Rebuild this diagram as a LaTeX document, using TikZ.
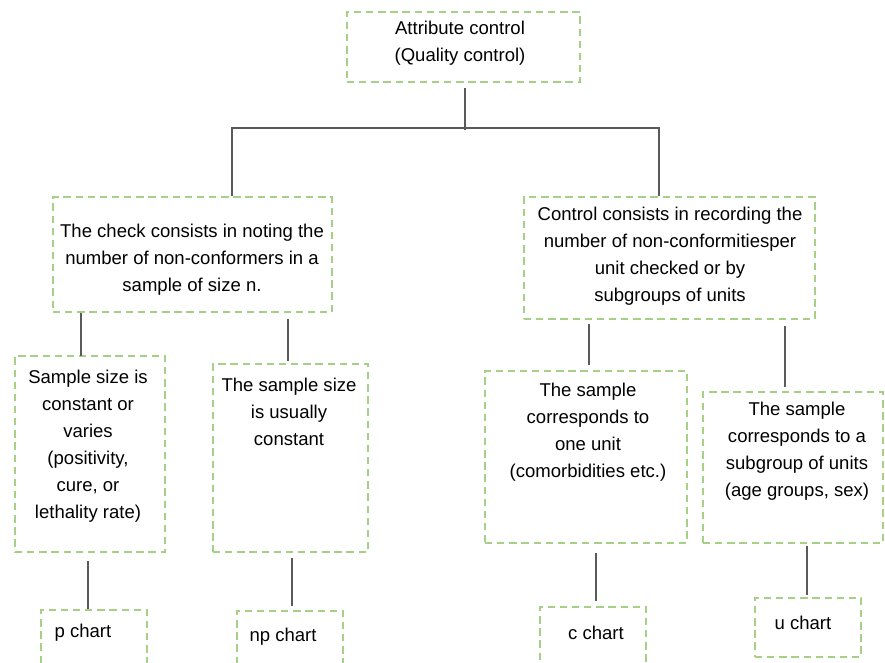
\documentclass[tikz,border=0pt]{standalone}
\usepackage{fontspec}
\setmainfont{Liberation Sans}
\usetikzlibrary{calc}
\definecolor{boxgreen}{RGB}{166,207,135}
\definecolor{conngray}{RGB}{90,90,90}
\begin{document}
\begin{tikzpicture}[x=0.75pt,y=-0.75pt,
  box/.style={draw=boxgreen,line width=1.5pt,dash pattern=on 5.5pt off 3.6pt,inner sep=0pt},
  txt/.style={align=center,inner sep=0pt,font=\fontsize{13.9}{20.25}\selectfont,text=black},
  conn/.style={draw=conngray,line width=1.4pt}]
\useasboundingbox (0,0) rectangle (885,663);
\clip (0,0) rectangle (885,663);
% boxes
\node[box,minimum width=233*0.75pt,minimum height=70*0.75pt] (top) at (463.5,47) {};
\node[box,minimum width=279*0.75pt,minimum height=115*0.75pt] (L) at (192.5,254.5) {};
\node[box,minimum width=291*0.75pt,minimum height=122*0.75pt] (R) at (669.5,258) {};
\node[box,minimum width=150*0.75pt,minimum height=196*0.75pt] (p) at (90,454) {};
\node[box,minimum width=155*0.75pt,minimum height=188*0.75pt] (np) at (290.5,458) {};
\node[box,minimum width=202*0.75pt,minimum height=172*0.75pt] (c) at (586,457) {};
\node[box,minimum width=180*0.75pt,minimum height=151*0.75pt] (u) at (793,467.5) {};
\node[box,minimum width=106*0.75pt,minimum height=70*0.75pt] (pc) at (94,645) {};
\node[box,minimum width=106*0.75pt,minimum height=70*0.75pt] (npc) at (290,646) {};
\node[box,minimum width=106*0.75pt,minimum height=70*0.75pt] (cc) at (593,642) {};
\node[box,minimum width=106*0.75pt,minimum height=59*0.75pt] (uc) at (808,627.5) {};
% texts
\node[txt] (ttop) at (460,43.5) {Attribute control\\ (Quality control)};
\node[txt] (tL) at (192,260) {The check consists in noting the\\number of non-conformers in a\\sample of size n.};
\node[txt] (tR) at (670,256) {Control consists in recording the\\number of non-conformitiesper\\unit checked or by\\subgroups of units};
\node[txt] (tp) at (88,446) {Sample size is\\constant or\\varies\\(positivity,\\cure, or\\lethality rate)};
\node[txt] (tnp) at (289,412) {The sample size\\is usually\\constant};
\node[txt] (tc) at (588,432.5) {The sample\\corresponds to\\one unit\\(comorbidities etc.)};
\node[txt] (tu) at (797,451) {The sample\\corresponds to a\\subgroup of units\\(age groups, sex)};
\node[txt] (tpc) at (83,633) {p chart};
\node[txt] (tnpc) at (283,637) {np chart};
\node[txt] (tcc) at (596,633) {c chart};
\node[txt] (tuc) at (803,623) {u chart};
% connectors
\draw[conn] ($(top.south)+(1.5,5)$) -- ($(top.south)+(1.5,47)$);
\draw[conn] ($(L.north)+(39.5,0)$) |- ($(R.north)+(-10.5,-68)$) -- ($(R.north)+(-10.5,0)$);
\draw[conn] ($(L.south)+(-111.5,0)$) -- ($(p.north)+(-9,1)$);
\draw[conn] ($(L.south)+(95.5,6)$) -- ($(np.north)+(-2.5,-2)$);
\draw[conn] ($(R.south)+(-80.5,4)$) -- ($(c.north)+(3,-5)$);
\draw[conn] ($(R.south)+(115.5,6)$) -- ($(u.north)+(-8,-4)$);
\draw[conn] ($(p.south)+(-2,8)$) -- ($(pc.north)+(-6,0)$);
\draw[conn] ($(np.south)+(1.5,5)$) -- ($(npc.north)+(2,-4)$);
\draw[conn] ($(c.south)+(10,9)$) -- ($(cc.north)+(3,-5)$);
\draw[conn] ($(u.south)+(14,2)$) -- ($(uc.north)+(-1,-2)$);
\end{tikzpicture}
\end{document}
